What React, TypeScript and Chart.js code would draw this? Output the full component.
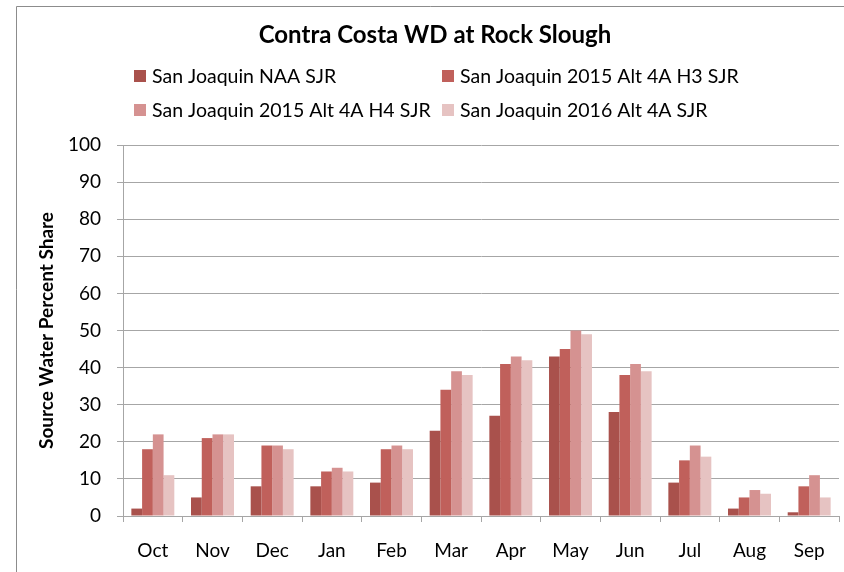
import React, { useEffect, useRef } from "react";
import { Chart, registerables } from "chart.js";

Chart.register(...registerables);

const chartTitle = "Contra Costa WD at Rock Slough";
const yAxisTitle = "Source Water Percent Share";
const categories = ["Oct", "Nov", "Dec", "Jan", "Feb", "Mar", "Apr", "May", "Jun", "Jul", "Aug", "Sep"];
const seriesNames = [
  "San Joaquin NAA SJR",
  "San Joaquin 2015 Alt 4A H3 SJR",
  "San Joaquin 2015 Alt 4A H4 SJR",
  "San Joaquin 2016 Alt 4A SJR",
];
const naaSjr = [2, 5, 8, 8, 9, 23, 27, 43, 28, 9, 2, 1];
const alt4aH3 = [18, 21, 19, 12, 18, 34, 41, 45, 38, 15, 5, 8];
const alt4aH4 = [22, 22, 19, 13, 19, 39, 43, 50, 41, 19, 7, 11];
const alt4a2016 = [11, 22, 18, 12, 18, 38, 42, 49, 39, 16, 6, 5];
const seriesColors = ["#A9514C", "#C0605B", "#D59291", "#E6C3C2"];
const yMin = 0;
const yMax = 100;
const yStep = 10;

const FONT = "Lato, 'Open Sans', sans-serif";
const GRID = "#A6A6A6";

const decorPlugin = {
  id: "decor",
  beforeDraw(chart: any) {
    const { ctx, width, height } = chart;
    ctx.save();
    ctx.fillStyle = "#ffffff";
    ctx.fillRect(0, 0, width, height);
    ctx.strokeStyle = "#8C8C8C";
    ctx.lineWidth = 1;
    ctx.beginPath();
    ctx.moveTo(16.5, height + 2);
    ctx.lineTo(16.5, 6.5);
    ctx.lineTo(width + 2, 6.5);
    ctx.stroke();
    ctx.restore();
  },
  afterDraw(chart: any) {
    const { ctx } = chart;
    ctx.save();
    ctx.fillStyle = "#000";
    ctx.textBaseline = "middle";
    ctx.textAlign = "center";
    ctx.font = `bold 24px ${FONT}`;
    ctx.fillText(chartTitle, 435, 35);

    const colX = [134, 442];
    const rowY = [76, 110];
    ctx.textAlign = "left";
    ctx.font = `19.5px ${FONT}`;
    chart.data.datasets.forEach((ds: any, i: number) => {
      const x = colX[i % 2];
      const y = rowY[Math.floor(i / 2)];
      ctx.fillStyle = ds.backgroundColor;
      ctx.fillRect(x, y - 6, 12, 12);
      ctx.fillStyle = "#000";
      ctx.fillText(ds.label, x + 18, y + 1);
    });
    ctx.restore();
  },
};

export default function App() {
  const ref = useRef<HTMLCanvasElement | null>(null);

  useEffect(() => {
    if (!ref.current) return;
    const seriesValues = [naaSjr, alt4aH3, alt4aH4, alt4a2016];
    const chart = new Chart(ref.current, {
      type: "bar",
      data: {
        labels: categories,
        datasets: seriesNames.map((name, i) => ({
          label: name,
          data: seriesValues[i],
          backgroundColor: seriesColors[i],
          borderWidth: 0,
          categoryPercentage: 0.72,
          barPercentage: 1,
        })),
      },
      options: {
        responsive: false,
        animation: false,
        layout: { padding: { top: 145, right: 5, left: 0, bottom: 0 } },
        plugins: {
          legend: { display: false },
          title: { display: false },
          tooltip: { enabled: false },
        },
        scales: {
          x: {
            afterFit: (s: any) => {
              s.height = 56;
            },
            grid: {
              display: true,
              drawOnChartArea: false,
              drawTicks: true,
              tickLength: 6,
              color: GRID,
              offset: true,
            },
            border: { display: true, color: GRID },
            ticks: {
              color: "#000",
              padding: 17,
              font: { family: FONT, size: 19 },
            },
          },
          y: {
            min: yMin,
            max: yMax,
            afterFit: (s: any) => {
              s.width = 123;
            },
            grid: { color: GRID, tickLength: 6 },
            border: { display: true, color: GRID },
            ticks: {
              stepSize: yStep,
              color: "#000",
              padding: 16,
              font: { family: FONT, size: 19 },
            },
            title: {
              display: true,
              text: yAxisTitle,
              color: "#000",
              padding: { top: 35, bottom: 0 },
              font: { family: FONT, size: 19, weight: "bold" },
            },
          },
        },
      },
      plugins: [decorPlugin],
    });
    return () => chart.destroy();
  }, []);

  return (
    <div style={{ position: "absolute", left: 0, top: 0, width: 844, height: 572 }}>
      <canvas ref={ref} width={844} height={572} />
    </div>
  );
}
